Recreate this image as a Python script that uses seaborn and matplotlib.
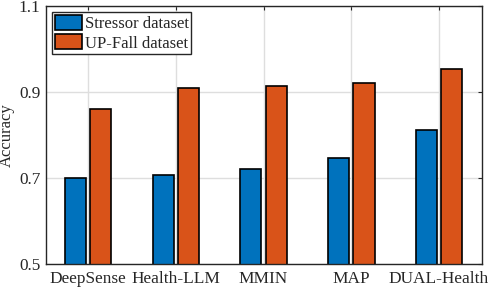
import matplotlib
matplotlib.use("Agg")
import matplotlib.pyplot as plt
import seaborn as sns
import pandas as pd

methods = ["DeepSense", "Health-LLM", "MMIN", "MAP", "DUAL-Health"]
stressor = [0.700, 0.708, 0.721, 0.747, 0.812]
upfall = [0.861, 0.909, 0.914, 0.921, 0.954]
series = ["Stressor dataset", "UP-Fall dataset"]
yticks = [0.5, 0.7, 0.9, 1.1]

df = pd.DataFrame({
    "Method": methods * 2,
    "Accuracy": stressor + upfall,
    "Dataset": [series[0]] * len(methods) + [series[1]] * len(methods),
})

sns.set_theme(style="white")
plt.rcParams["font.family"] = ["Liberation Serif", "DejaVu Serif"]

fig = plt.figure(figsize=(4.88, 2.89), dpi=100)
ax = fig.add_axes([46 / 488, 1 - 264 / 289, (482 - 46) / 488, (264 - 6) / 289])

sns.barplot(data=df, x="Method", y="Accuracy", hue="Dataset",
            palette=["#0072BD", "#D95319"], width=0.58, gap=0.17,
            edgecolor="black", linewidth=1.2, saturation=1, ax=ax)

ax.grid(True, axis="both", color="#dedede", linewidth=1.0)
ax.xaxis.grid(True, color="#dedede", linewidth=1.0)
ax.set_axisbelow(True)

ax.set_ylim(0.5, 1.1)
ax.set_yticks(yticks)
ax.set_yticklabels([f"{v:.1f}" for v in yticks])
ax.set_xlim(-0.48, 4.49)
ax.set_xlabel("")
ax.set_ylabel("Accuracy", fontsize=12, color="#262626")
ax.yaxis.set_label_coords(-0.072, 0.5)

for s in ax.spines.values():
    s.set_visible(True)
    s.set_color("#262626")
    s.set_linewidth(1.0)

ax.tick_params(axis="both", direction="in", length=3, width=0.8, color="#262626",
               top=True, right=True, labelsize=12.4, labelcolor="#262626")
ax.tick_params(axis="y", pad=4)
ax.tick_params(axis="x", pad=5)

leg = ax.legend(loc="upper left", fontsize=12, frameon=True, fancybox=False,
                edgecolor="#262626", framealpha=1, borderpad=0.15,
                handlelength=1.6, handleheight=1.0, handletextpad=0.2,
                labelspacing=0.15, borderaxespad=0.38)
leg.get_frame().set_linewidth(1.0)
for t in leg.get_texts():
    t.set_color("#262626")

fig.savefig("out.png", dpi=100)
